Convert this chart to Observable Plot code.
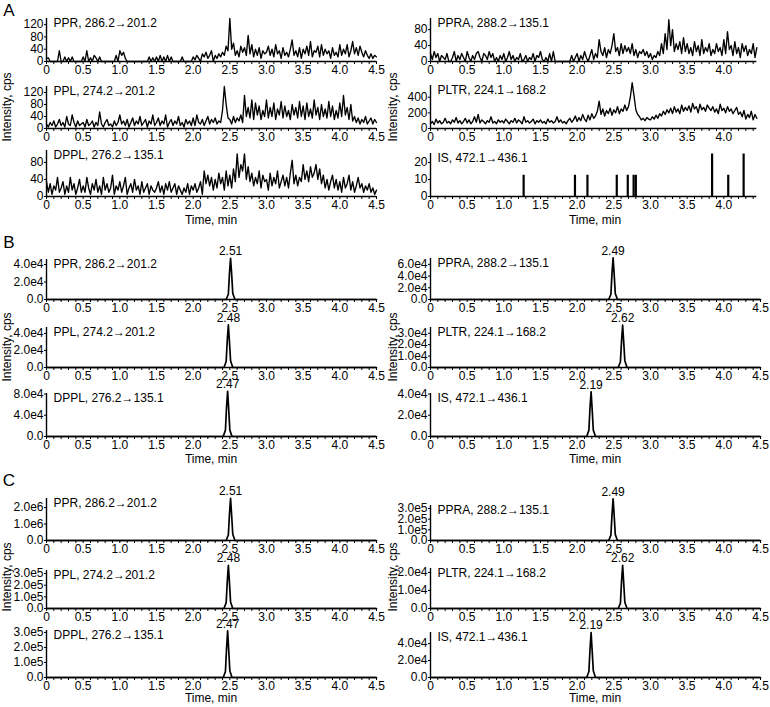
<!DOCTYPE html>
<html><head><meta charset="utf-8">
<script src="https://cdn.jsdelivr.net/npm/d3@7"></script>
<script src="https://cdn.jsdelivr.net/npm/@observablehq/plot@0.6"></script>
<style>
body{margin:0;background:#fff;}
#fig{position:relative;width:770px;height:707px;font-family:"Liberation Sans",Arial,sans-serif;color:#000;overflow:hidden;}
#fig svg{position:absolute;overflow:visible;}
.lab{position:absolute;font-size:12px;white-space:nowrap;transform:translate(-50%,-50%);}
.sec{position:absolute;font-size:17px;line-height:1;transform:translate(-50%,-50%);}
.ylab{position:absolute;font-size:12px;white-space:nowrap;transform:translate(-50%,-50%) rotate(-90deg);}
</style></head><body><div id="fig"></div>
<script>
// ---------- DATA ----------
const titles = ["PPR, 286.2→201.2","PPL, 274.2→201.2","DPPL, 276.2→135.1","PPRA, 288.2→135.1","PLTR, 224.1→168.2","IS, 472.1→436.1"];
const xTickValues = [0,0.5,1.0,1.5,2.0,2.5,3.0,3.5,4.0,4.5];
const xTickLabels = ["0","0.5","1.0","1.5","2.0","2.5","3.0","3.5","4.0","4.5"];
const sectionLabels = ["A","B","C"];
const STEP = 0.025; // sampling interval (min) of the blank traces

// Section A: blank traces, one value per 0.025 min
const A_PPR = [10,12,0,0,0,0,0,35,0,0,15,0,12,0,15,0,0,0,0,0,
 15,0,35,0,12,0,20,12,0,15,0,0,0,0,0,0,0,0,20,0,
 35,20,30,10,0,0,0,0,0,0,0,0,0,0,0,0,15,0,12,0,
 15,0,20,0,15,0,20,0,15,0,0,0,0,0,15,0,0,0,0,0,
 15,5,20,10,0,25,15,30,10,20,35,0,20,10,25,15,30,20,50,35,
 140,40,60,20,35,15,50,30,45,20,85,25,55,15,40,20,45,10,35,25,
 30,50,20,40,15,55,25,35,10,45,20,30,15,40,70,20,35,15,45,10,
 40,25,50,20,65,15,35,30,50,15,55,20,40,25,35,10,45,20,30,15,
 55,20,40,25,55,15,35,65,25,45,20,50,30,15,35,20,10,25,10,20,15];
const A_PPL = [15,5,20,10,25,5,15,30,10,20,5,40,15,10,45,20,5,25,10,15,
 20,5,30,10,15,25,5,20,10,55,15,5,20,30,10,15,5,25,10,20,
 45,15,25,10,30,5,20,35,10,25,15,40,10,20,30,5,25,15,45,10,
 20,35,10,25,15,45,5,20,30,10,25,15,40,10,20,5,30,15,25,10,
 35,10,45,20,15,30,10,25,40,15,30,20,35,15,25,20,60,140,80,35,
 30,15,40,20,35,25,45,20,110,40,70,35,95,30,85,45,75,30,60,40,
 95,35,70,40,85,30,65,45,90,35,75,40,60,30,80,45,70,35,90,40,
 75,30,85,40,65,35,95,45,70,30,80,40,65,35,90,40,75,30,60,35,
 85,40,110,45,70,30,80,25,40,20,35,15,30,20,40,15,25,35,15,30,20];
const A_DPPL = [35,10,30,5,25,15,45,10,20,35,5,25,10,45,15,30,5,20,40,10,
 25,10,45,20,5,30,15,40,10,25,5,45,15,30,10,20,50,5,25,15,
 35,10,25,45,5,20,30,10,40,15,25,5,35,10,20,30,5,25,15,10,
 20,35,10,25,5,30,15,35,10,20,30,5,25,15,5,20,10,30,5,25,
 15,30,10,20,35,5,60,30,50,25,45,15,40,20,55,30,45,15,60,25,
 50,20,65,35,100,45,75,60,100,40,70,35,55,25,45,30,60,20,50,35,
 40,15,55,25,45,30,60,20,35,50,25,45,20,55,85,30,50,25,45,35,
 75,40,60,35,70,45,55,75,40,65,30,50,20,40,15,35,50,20,40,15,
 35,10,45,20,30,50,15,35,10,25,45,20,30,10,25,15,30,10,20,5,15];
const A_PPRA = [20,5,25,10,20,0,15,10,5,20,0,0,10,25,0,15,5,20,10,0,
 25,10,0,15,5,20,25,10,0,20,15,5,25,10,20,0,10,0,15,5,
 20,0,10,25,5,15,0,10,5,20,0,5,15,0,10,5,20,0,15,10,
 25,5,0,10,0,20,0,25,0,0,0,0,0,0,0,0,0,15,0,10,
 20,0,15,5,25,10,0,15,30,5,20,10,55,25,15,35,10,30,20,40,
 70,25,35,15,45,20,40,25,35,20,45,15,30,10,25,20,30,15,25,10,
 20,5,15,10,25,15,45,20,70,30,105,40,80,25,45,30,50,20,60,25,
 45,20,35,15,50,25,40,15,55,20,35,25,45,15,30,20,45,25,35,15,
 55,20,75,30,40,15,50,20,35,10,45,25,40,15,30,20,45,10,35];
const A_PLTR = [60,90,50,120,70,100,60,80,130,70,90,60,110,80,140,70,100,60,90,130,
 70,110,60,90,150,80,180,70,110,90,60,100,80,150,70,90,60,110,80,100,
 70,120,90,60,100,80,130,70,110,90,60,150,80,100,70,90,120,60,100,80,
 110,70,90,60,120,80,100,70,90,150,80,110,70,90,60,100,130,80,110,160,
 90,140,100,180,120,90,170,110,190,130,160,220,350,180,250,160,230,190,260,170,
 240,200,280,190,250,220,300,230,280,400,585,420,240,180,150,110,130,100,140,120,
 110,150,120,170,130,190,160,220,180,240,200,260,190,280,210,250,190,300,220,270,
 230,290,210,320,250,280,200,310,240,270,220,300,260,230,280,210,250,190,310,230,
 260,200,280,220,250,190,230,270,180,210,150,230,120,180,140,220,110,180,130];
const A_IS_t = [1.27,1.97,2.14,2.54,2.69,2.77,2.80,3.84,4.06,4.27];
const A_IS_v = [12.5,12.5,12.5,12.5,12.5,12.5,12.5,25,12.5,25];

// Section B: spiked samples (time, intensity)
const B_PPR_t  = [0,2.45,2.48,2.495,2.51,2.525,2.54,2.57,4.5];
const B_PPR_v  = [0,0,6000,30000,47000,29000,7000,0,0];
const B_PPL_t  = [0,2.42,2.45,2.465,2.48,2.495,2.51,2.54,4.5];
const B_PPL_v  = [0,0,7000,32000,50000,30000,8000,0,0];
const B_DPPL_t = [0,2.41,2.44,2.455,2.47,2.485,2.50,2.53,4.5];
const B_DPPL_v = [0,0,12000,55000,85000,50000,12000,0,0];
const B_PPRA_t = [0,2.43,2.46,2.475,2.49,2.505,2.52,2.55,4.5];
const B_PPRA_v = [0,0,9000,45000,71000,42000,10000,0,0];
const B_PLTR_t = [0,2.56,2.59,2.605,2.62,2.635,2.65,2.68,4.5];
const B_PLTR_v = [0,0,5000,23000,37000,22000,6000,0,0];
const B_IS_t   = [0,2.13,2.16,2.175,2.19,2.205,2.22,2.25,4.5];
const B_IS_v   = [0,0,6000,27000,42000,25000,6000,0,0];
// Section C: sample (time, intensity)
const C_PPR_t  = [0,2.45,2.48,2.495,2.51,2.525,2.54,2.57,4.5];
const C_PPR_v  = [0,0,350000,1600000,2560000,1500000,380000,0,0];
const C_PPL_t  = [0,2.42,2.45,2.465,2.48,2.495,2.51,2.54,4.5];
const C_PPL_v  = [0,0,50000,230000,370000,220000,55000,0,0];
const C_DPPL_t = [0,2.41,2.44,2.455,2.47,2.485,2.50,2.53,4.5];
const C_DPPL_v = [0,0,40000,190000,310000,180000,45000,0,0];
const C_PPRA_t = [0,2.43,2.46,2.475,2.49,2.505,2.52,2.55,4.5];
const C_PPRA_v = [0,0,50000,240000,390000,230000,55000,0,0];
const C_PLTR_t = [0,2.56,2.59,2.605,2.62,2.635,2.65,2.68,4.5];
const C_PLTR_v = [0,0,3000,15000,24000,14000,3500,0,0];
const C_IS_t   = [0,2.13,2.16,2.175,2.19,2.205,2.22,2.25,4.5];
const C_IS_v   = [0,0,7000,33000,53000,31000,8000,0,0];
const peakLabels = ["2.51","2.48","2.47","2.49","2.62","2.19"];
const peakTimes  = [2.51,2.48,2.47,2.49,2.62,2.19];

// ---------- BUILD ----------
const stepRows = vals => vals.map((v,i) => ({t: +(i*STEP).toFixed(3), v}));
const pairRows = (ts, vs) => ts.map((t,i) => ({t, v: vs[i]}));
const intFmt = d => String(d);
const expFmt = d => d === 0 ? "0.0" : d.toExponential(1).replace("+","");

const colLayout = [{left:0, marginLeft:46, width:385}, {left:385, marginLeft:45, width:385}];
const PX_PER_MIN = 330/4.5;

const panels = [
 {col:0, top:18,  base:61,  yMax:140,  xMax:4.5,  yTicks:[0,40,80,120], fmt:intFmt, k:0, rows:stepRows(A_PPR)},
 {col:0, top:86,  base:128, yMax:140,  xMax:4.5,  yTicks:[0,40,80,120], fmt:intFmt, k:1, rows:stepRows(A_PPL)},
 {col:0, top:150, base:196, yMax:108,  xMax:4.5,  yTicks:[0,40,80],     fmt:intFmt, k:2, rows:stepRows(A_DPPL)},
 {col:1, top:18,  base:61,  yMax:108,  xMax:4.45, yTicks:[0,40,80],     fmt:intFmt, k:3, rows:stepRows(A_PPRA)},
 {col:1, top:85,  base:128, yMax:550,  xMax:4.45, yTicks:[0,200,400],   fmt:intFmt, k:4, rows:stepRows(A_PLTR)},
 {col:1, top:153, base:196, yMax:25.3, xMax:4.45, yTicks:[0,10,20],     fmt:intFmt, k:5, spikes:pairRows(A_IS_t, A_IS_v)},
 {col:0, top:259, base:299, yMax:4.57e4, xMax:4.5, yTicks:[0,2e4,4e4], fmt:expFmt, k:0, rows:pairRows(B_PPR_t,B_PPR_v), peak:true},
 {col:0, top:327, base:367, yMax:4.7e4,  xMax:4.5, yTicks:[0,2e4,4e4], fmt:expFmt, k:1, rows:pairRows(B_PPL_t,B_PPL_v), peak:true},
 {col:0, top:393, base:436, yMax:8.1e4,  xMax:4.5, yTicks:[0,4e4,8e4], fmt:expFmt, k:2, rows:pairRows(B_DPPL_t,B_DPPL_v), peak:true},
 {col:1, top:258, base:299, yMax:7.0e4,  xMax:4.5, yTicks:[0,2e4,4e4,6e4], fmt:expFmt, k:3, rows:pairRows(B_PPRA_t,B_PPRA_v), peak:true},
 {col:1, top:327, base:367, yMax:3.5e4,  xMax:4.5, yTicks:[0,1e4,2e4,3e4], fmt:expFmt, k:4, rows:pairRows(B_PLTR_t,B_PLTR_v), peak:true},
 {col:1, top:393, base:436, yMax:4.05e4, xMax:4.5, yTicks:[0,2e4,4e4], fmt:expFmt, k:5, rows:pairRows(B_IS_t,B_IS_v), peak:true},
 {col:0, top:498, base:540, yMax:2.55e6, xMax:4.5, yTicks:[0,1e6,2e6], fmt:expFmt, k:0, rows:pairRows(C_PPR_t,C_PPR_v), peak:true},
 {col:0, top:570, base:608, yMax:3.26e5, xMax:4.5, yTicks:[0,1e5,2e5,3e5], fmt:expFmt, k:1, rows:pairRows(C_PPL_t,C_PPL_v), peak:true},
 {col:0, top:630, base:677, yMax:3.13e5, xMax:4.5, yTicks:[0,1e5,2e5,3e5], fmt:expFmt, k:2, rows:pairRows(C_DPPL_t,C_DPPL_v), peak:true},
 {col:1, top:505, base:540, yMax:3.28e5, xMax:4.5, yTicks:[0,1e5,2e5,3e5], fmt:expFmt, k:3, rows:pairRows(C_PPRA_t,C_PPRA_v), peak:true},
 {col:1, top:568, base:608, yMax:2.22e4, xMax:4.5, yTicks:[0,1e4,2e4], fmt:expFmt, k:4, rows:pairRows(C_PLTR_t,C_PLTR_v), peak:true},
 {col:1, top:632, base:677, yMax:5.3e4,  xMax:4.5, yTicks:[0,2e4,4e4], fmt:expFmt, k:5, rows:pairRows(C_IS_t,C_IS_v), peak:true}
];

const fig = document.getElementById("fig");
const xLabel = d => { const i = xTickValues.findIndex(v => Math.abs(v - d) < 1e-6); return i >= 0 ? xTickLabels[i] : ""; };

for (const p of panels) {
  const c = colLayout[p.col];
  const mt = 24, mb = 20;
  const h = p.base - p.top;
  const mr = c.width - c.marginLeft - p.xMax * PX_PER_MIN;
  const ticks = d3.range(0, p.xMax + 1e-9, 0.1).map(d => +d.toFixed(1));
  const marks = [
    Plot.ruleY([0], {strokeWidth: 1.4}),
    Plot.ruleX([0], {strokeWidth: 1.4}),
    Plot.text([titles[p.k]], {frameAnchor: "top-left", dx: 7, dy: 5, lineAnchor: "middle", textAnchor: "start", fontSize: 12})
  ];
  if (p.rows) marks.push(Plot.line(p.rows, {x: "t", y: "v", stroke: "black", strokeWidth: p.peak ? 1.7 : 1.35}));
  if (p.spikes) marks.push(Plot.ruleX(p.spikes, {x: "t", y1: 0, y2: "v", stroke: "black", strokeWidth: 2.2}));
  if (p.peak) {
    const r = p.rows.reduce((a, b) => b.v > a.v ? b : a);
    marks.push(Plot.text([{t: peakTimes[p.k], v: r.v, s: peakLabels[p.k]}], {x: "t", y: "v", text: "s", dy: -7, lineAnchor: "middle", fontSize: 12}));
  }
  const svg = Plot.plot({
    width: c.width, height: h + mt + mb,
    marginLeft: c.marginLeft, marginRight: mr, marginTop: mt, marginBottom: mb,
    style: {background: "transparent", overflow: "visible", fontFamily: "Liberation Sans, Arial, sans-serif", fontSize: "12px", color: "black"},
    x: {domain: [0, p.xMax], ticks, tickFormat: xLabel, tickSize: 3, tickPadding: 1, label: null},
    y: {domain: [0, p.yMax], ticks: p.yTicks, tickFormat: p.fmt, tickSize: 2, tickPadding: 1, label: null},
    marks
  });
  svg.style.left = c.left + "px";
  svg.style.top = (p.top - mt) + "px";
  fig.appendChild(svg);
}

function addDiv(cls, text, x, y) {
  const d = document.createElement("div");
  d.className = cls; d.textContent = text;
  d.style.left = x + "px"; d.style.top = y + "px";
  fig.appendChild(d);
}
const sectionY = [10, 242, 480];
sectionLabels.forEach((s, i) => addDiv("sec", s, 9, sectionY[i]));
const timeY = [220, 459, 698];
const intY = [107, 347, 577];
for (let i = 0; i < 3; i++) {
  addDiv("lab", "Time, min", 211, timeY[i]);
  addDiv("lab", "Time, min", 595, timeY[i]);
  addDiv("ylab", "Intensity, cps", 7, intY[i]);
  addDiv("ylab", "Intensity, cps", 393, intY[i]);
}
</script></body></html>
